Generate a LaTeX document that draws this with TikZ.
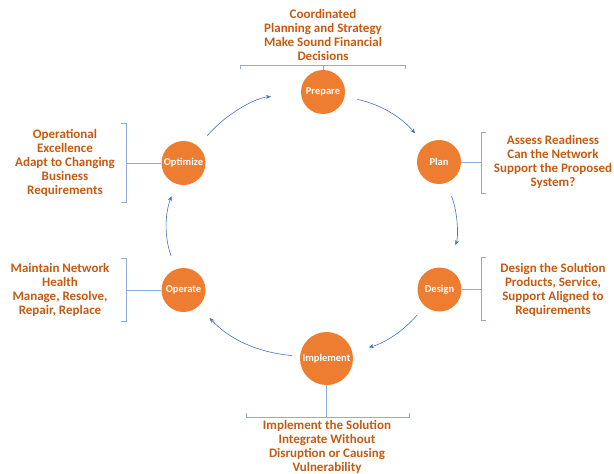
\documentclass[tikz,border=0pt]{standalone}
\usepackage{fontspec}
\setmainfont{Carlito}
\usetikzlibrary{arrows.meta}
\definecolor{phase}{RGB}{237,125,49}
\definecolor{note}{RGB}{197,90,17}
\definecolor{cycle}{RGB}{68,114,196}
\definecolor{bracket}{RGB}{143,170,220}

\begin{document}
\begin{tikzpicture}[x=1pt, y=-1pt]
  \tikzset{
    phase/.style={circle, fill=phase, inner sep=0pt, minimum size=44pt,
      text=white, font={\fontsize{10.5pt}{12pt}\bfseries}},
    note/.style={align=center, text=note, font={\fontsize{13pt}{14pt}\bfseries}},
    cycle/.style={color=cycle, line width=0.6pt, -{Stealth[length=5pt, width=4pt]}},
    bracket/.style={color=bracket, line width=0.8pt},
  }
  \useasboundingbox (0,0) rectangle (614,474);

  % phases
  \node[phase] (prepare) at (323,92) {Prepare};
  \node[phase] (plan) at (439,162) {Plan};
  \node[phase] (design) at (439.5,289.5) {Design};
  \node[phase, minimum size=53pt] (implement) at (326.5,358.5) {Implement};
  \node[phase] (operate) at (183.5,290) {Operate};
  \node[phase] (optimize) at (183.5,163) {Optimize};

  % arrows round the cycle
  \foreach \a/\b/\bend/\s/\e in {optimize/prepare/22/14/30, prepare/plan/19/13/15,
      plan/design/20/14/25, design/implement/17/12/17,
      implement/operate/21/8/16, operate/optimize/20/14/13} {
    \draw[cycle, shorten <=\s pt, shorten >=\e pt] (\a) to[bend left=\bend] (\b);
  }

  % notes
  \node[note] (preparetext) at (323,35) {Coordinated\\Planning and Strategy\\Make Sound Financial\\Decisions};
  \node[note] (plantext) at (553,162) {Assess Readiness\\Can the Network\\Support the Proposed\\System?};
  \node[note] (designtext) at (553,290) {Design the Solution\\Products, Service,\\Support Aligned to\\Requirements};
  \node[note] (implementtext) at (327,447) {Implement the Solution\\Integrate Without\\Disruption or Causing\\Vulnerability};
  \node[note] (operatetext) at (60,289.5) {Maintain Network\\Health\\Manage, Resolve,\\Repair, Replace};
  \node[note] (optimizetext) at (65,162.5) {Operational\\Excellence\\Adapt to Changing\\Business\\Requirements};

  % brackets
  \draw[bracket] (prepare.north) -- (prepare.north |- 0,65) coordinate (preparebar);
  \draw[bracket] ([shift={(-83,4)}]preparebar) -- ++(0,-4) -- ++(165,0) -- ++(0,4);

  \draw[bracket] (implement.south) -- (implement.south |- 0,417) coordinate (implementbar);
  \draw[bracket] ([shift={(-80,-4)}]implementbar) -- ++(0,4) -- ++(163,0) -- ++(0,-4);

  \draw[bracket] (optimize.west) -- (optimize.west -| 126,0) coordinate (optimizebar);
  \draw[bracket] ([shift={(-5,-40)}]optimizebar) -- ++(5,0) -- ++(0,79) -- ++(-5,0);

  \draw[bracket] (operate.west) -- (operate.west -| 126,0) coordinate (operatebar);
  \draw[bracket] ([shift={(-5,-32)}]operatebar) -- ++(5,0) -- ++(0,63) -- ++(-5,0);

  \draw[bracket] (plan.east) -- (plan.east -| 481,0) coordinate (planbar);
  \draw[bracket] ([shift={(5,-30)}]planbar) -- ++(-5,0) -- ++(0,61) -- ++(5,0);

  \draw[bracket] (design.east) -- (design.east -| 481,0) coordinate (designbar);
  \draw[bracket] ([shift={(5,-32)}]designbar) -- ++(-5,0) -- ++(0,63) -- ++(5,0);
\end{tikzpicture}
\end{document}
